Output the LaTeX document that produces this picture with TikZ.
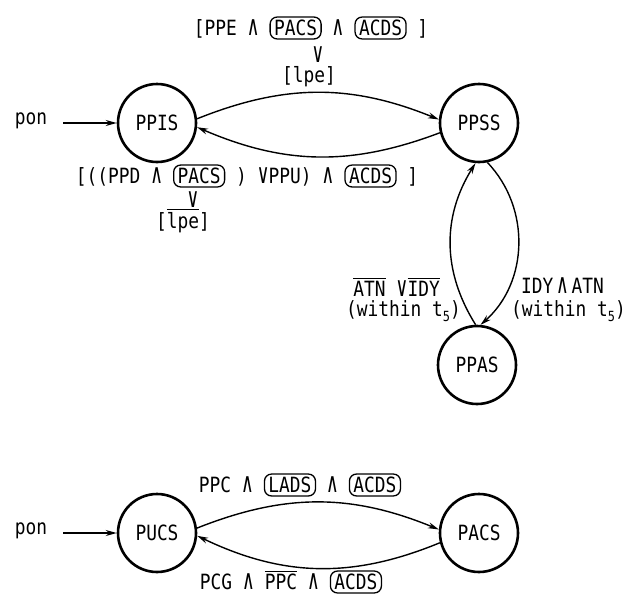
\documentclass[tikz,border=0pt]{standalone}
\usepackage{fontspec}
\setmainfont{DejaVu Sans Mono}[FakeStretch=0.85]
\newfontfamily\symf{DejaVu Sans Mono}[Scale=1.3,FakeStretch=0.68]
\usetikzlibrary{arrows.meta}
\newcommand\ovl[1]{\vbox{\hrule height 1.4pt\kern 2pt\hbox{#1}}}
\newcommand\rbx[1]{\tikz[baseline=(rb.base)]\node[rbox](rb){#1};}
\newcommand\subfive{\raisebox{-0.22em}{\fontsize{14}{14}\selectfont 5}}
\newcommand\AND{{\symf ∧}}
\newcommand\OR{{\symf ∨}}
\tikzset{
  state/.style={circle, draw, line width=2.6pt, minimum size=78pt, inner sep=0pt},
  tr/.style={line width=1.4pt, -{Stealth[length=11pt,width=6pt]}},
  lbl/.style={inner sep=0pt},
  rbox/.style={draw, rounded corners=7pt, line width=1.3pt, inner xsep=4pt, inner ysep=3pt},
}
\begin{document}
\begin{tikzpicture}[x=1pt,y=-1pt,font=\fontsize{21}{24}\selectfont]
\useasboundingbox (0,0) rectangle (631,597);
% states
\node[state] (ppis) at (157,123) {PPIS};
\node[state] (ppss) at (479,123) {PPSS};
\node[state] (ppas) at (477,365) {PPAS};
\node[state] (pucs) at (157,533) {PUCS};
\node[state] (pacs) at (479,533) {PACS};
% initial arrows
\node[lbl] (pon1) at (31,121) {pon};
\node[lbl] (pon2) at (31,531) {pon};
\coordinate (s1) at (63,123);
\coordinate (s2) at (63,533);
\draw[tr] (s1) -- (ppis);
\draw[tr] (s2) -- (pucs);
% top transitions
\draw[tr] (ppis.6) to[bend left=22] (ppss.175);
\draw[tr] (ppss.194) to[bend left=22] (ppis.-6);
\draw[tr] (ppas.92) to[bend left=32] (ppss.-95);
\draw[tr] (ppss.-78) to[bend left=46] (ppas.85);
% bottom transitions
\draw[tr] (pucs.7) to[bend left=22] (pacs.175);
\draw[tr] (pacs.194) to[bend left=24] (pucs.-4);
% labels
\node[lbl] (t1) at (311,28) {[PPE \AND{} \rbx{PACS} \AND{} \rbx{ACDS} ]};
\node[lbl] (t2) at (318,55) {\OR};
\node[lbl] (t3) at (309,77) {[lpe]};
\node[lbl] (b1) at (247,176) {[((PPD \AND{} \rbx{PACS} ) \OR{}PPU) \AND{} \rbx{ACDS} ]};
\node[lbl] (b2) at (193,200) {\OR};
\node[lbl] (b3) at (183,221) {[\ovl{lpe}]};
\node[lbl,anchor=east] (l1) at (440,287) {\ovl{ATN} \OR\ovl{IDY}};
\node[lbl,anchor=east] (l2) at (461,311) {(within t\subfive)};
\node[lbl,anchor=west] (r1) at (521,286) {IDY\,\AND\,ATN};
\node[lbl,anchor=west] (r2) at (511,311) {(within t\subfive)};
\node[lbl] (c1) at (300,485) {PPC \AND{} \rbx{LADS} \AND{} \rbx{ACDS}};
\node[lbl] (c2) at (291,582) {PCG \AND{} \ovl{PPC} \AND{} \rbx{ACDS}};
\end{tikzpicture}
\end{document}
